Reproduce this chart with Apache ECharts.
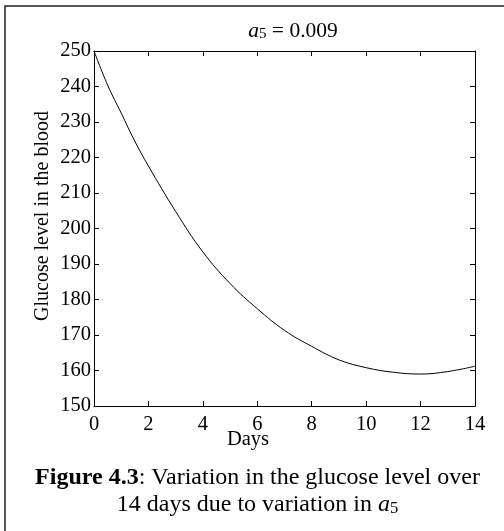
<!DOCTYPE html>
<html>
<head>
<meta charset="utf-8">
<script src="https://cdn.jsdelivr.net/npm/echarts@6/dist/echarts.min.js"></script>
<style>
    html, body { margin: 0; padding: 0; background: #fff; }
    #chart { width: 504px; height: 531px; }
</style>
</head>
<body>
<div id="chart"></div>
<script>
/* ===== data ===== */
const days = [0, 0.5, 1, 1.5, 2, 3, 4, 5, 6, 7, 8, 9, 10, 11, 12, 13, 14];
const glucose = [250, 240.4, 232.5, 224.6, 217.6, 204.8, 193.4, 184.5, 177.4, 171.3, 166.8, 163.0, 160.8, 159.5, 159.0, 159.7, 161.2];
const xTicks = [0, 2, 4, 6, 8, 10, 12, 14];
const yTicks = [150, 160, 170, 180, 190, 200, 210, 220, 230, 240, 250];

const FONT = '"Liberation Serif", "Times New Roman", serif';
const plot = { left: 94, top: 51, right: 475, bottom: 406 };

/* ===== axis helpers (MATLAB style: box + inward ticks) ===== */
function boxAxis(extra) {
    return Object.assign({
        type: "value",
        axisLine: { show: true, onZero: false, lineStyle: { color: "#000", width: 1 } },
        axisTick: { show: true, inside: true, length: 5, lineStyle: { color: "#000" } },
        splitLine: { show: false },
        axisLabel: { show: false },
    }, extra);
}

const xAxisMain = boxAxis({
    position: "bottom", min: xTicks[0], max: xTicks[xTicks.length - 1], interval: 2,
    axisLabel: { show: true, margin: 8, color: "#000", fontFamily: FONT, fontSize: 20.5 },
});
const xAxisTop = boxAxis({ position: "top", min: xTicks[0], max: xTicks[xTicks.length - 1], interval: 2 });
const yAxisMain = boxAxis({
    position: "left", min: yTicks[0], max: yTicks[yTicks.length - 1], interval: 10,
    axisLabel: { show: true, margin: 3, color: "#000", fontFamily: FONT, fontSize: 20.5 },
});
const yAxisRight = boxAxis({ position: "right", min: yTicks[0], max: yTicks[yTicks.length - 1], interval: 10 });

const chart = echarts.init(document.getElementById("chart"), null, { renderer: "canvas" });
chart.setOption({
    backgroundColor: "#fff",
    animation: false,
    grid: {
        left: plot.left, top: plot.top,
        width: plot.right - plot.left, height: plot.bottom - plot.top,
        containLabel: false, outerBoundsMode: "none",
    },
    xAxis: [xAxisMain, xAxisTop],
    yAxis: [yAxisMain, yAxisRight],
    series: [{
        type: "line",
        xAxisIndex: 0, yAxisIndex: 0,
        data: days.map((d, i) => [d, glucose[i]]),
        smooth: 0.4,
        showSymbol: false,
        lineStyle: { color: "#000", width: 1 },
    }],
    graphic: [
        // outer frame (only left and top edges fall inside the picture)
        { type: "rect", shape: { x: 5, y: 6, width: 700, height: 700 },
          style: { fill: "none", stroke: "#222", lineWidth: 1.5 }, silent: true },
        // title  a5 = 0.009
        { type: "text", x: 293, y: 31, style: {
            text: "{i|a}{s|5} = 0.009", align: "center", verticalAlign: "middle",
            font: "21.5px " + FONT, fill: "#000",
            rich: {
                i: { fontStyle: "italic", fontSize: 21.5, fontFamily: FONT },
                s: { fontSize: 15, lineHeight: 10, verticalAlign: "bottom", fontFamily: FONT },
            },
        } },
        // x axis name
        { type: "text", x: 248, y: 440, style: {
            text: "Days", align: "center", verticalAlign: "middle", font: "20.5px " + FONT, fill: "#000",
        } },
        // y axis name
        { type: "text", x: 43, y: 216, rotation: Math.PI / 2, style: {
            text: "Glucose level in the blood", align: "center", verticalAlign: "middle",
            font: "20px " + FONT, fill: "#000",
        } },
        // caption
        { type: "text", x: 257.5, y: 478, style: {
            text: "{b|Figure 4.3}: Variation in the glucose level over", align: "center", verticalAlign: "middle",
            font: "24px " + FONT, fill: "#000",
            rich: { b: { fontWeight: "bold", fontSize: 24, fontFamily: FONT } },
        } },
        { type: "text", x: 257.5, y: 505, style: {
            text: "14 days due to variation in {i|a}{s|5}", align: "center", verticalAlign: "middle",
            font: "24px " + FONT, fill: "#000",
            rich: {
                i: { fontStyle: "italic", fontSize: 24, fontFamily: FONT },
                s: { fontSize: 16.5, lineHeight: 11, verticalAlign: "bottom", fontFamily: FONT },
            },
        } },
    ],
});
</script>
</body>
</html>
